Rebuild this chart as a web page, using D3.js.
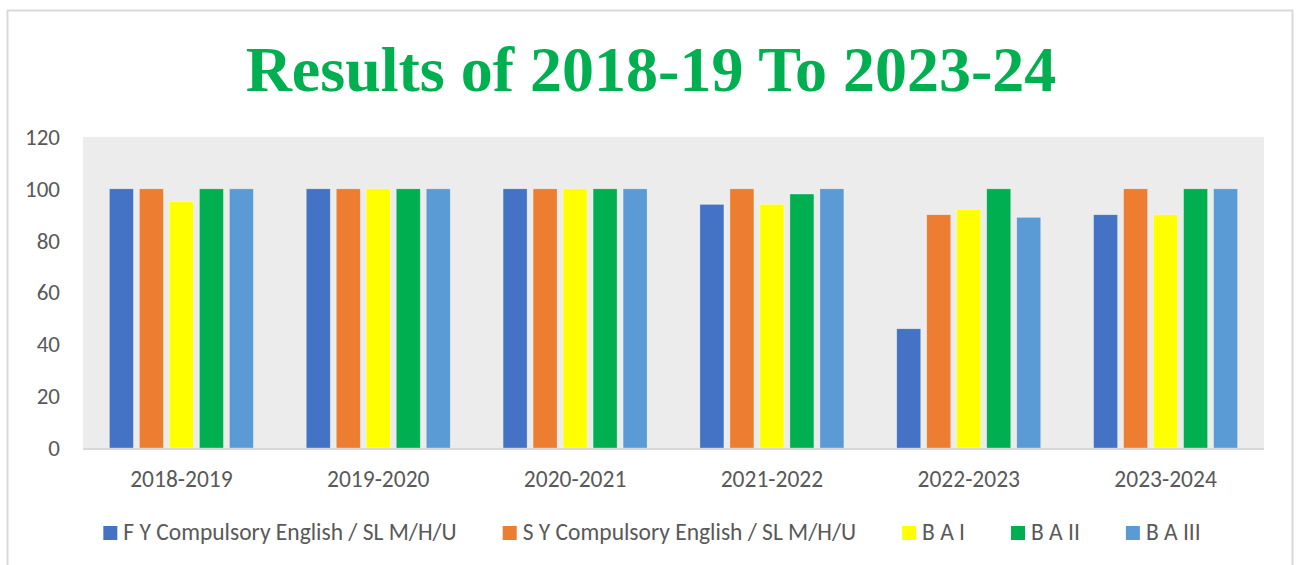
<!DOCTYPE html>
<html>
<head>
<meta charset="utf-8">
<script src="https://cdn.jsdelivr.net/npm/d3@7"></script>
<style>
  html, body { margin: 0; padding: 0; background: #fff; }
  #chart { width: 1298px; height: 565px; }
</style>
</head>
<body>
<div id="chart"></div>
<script>
// Chart data
const years = ["2018-2019", "2019-2020", "2020-2021", "2021-2022", "2022-2023", "2023-2024"];
const seriesNames = ["F Y Compulsory English / SL M/H/U", "S Y Compulsory English / SL M/H/U", "B A I", "B A II", "B A III"];
const fyEnglish = [100, 100, 100, 94, 46, 90];
const syEnglish = [100, 100, 100, 100, 90, 100];
const ba1 = [95, 100, 100, 94, 92, 90];
const ba2 = [100, 100, 100, 98, 100, 100];
const ba3 = [100, 100, 100, 100, 89, 100];
const yTicks = [0, 20, 40, 60, 80, 100, 120];

const seriesValues = [fyEnglish, syEnglish, ba1, ba2, ba3];
const colors = ["#4472C4", "#ED7D31", "#FFFF00", "#00B050", "#5B9BD5"];

const W = 1298, H = 565;
const plot = { left: 83, right: 1264, top: 137, bottom: 448 };
const labelFont = "Carlito, 'Open Sans', 'Liberation Sans', sans-serif";

const svg = d3.select("#chart").append("svg")
  .attr("width", W)
  .attr("height", H);

// Outer chart frame (bottom edge is cut off in the reference)
svg.append("path")
  .attr("d", `M7.5,${H + 2} L7.5,10.5 L1292.5,10.5 L1292.5,${H + 2}`)
  .attr("fill", "none")
  .attr("stroke", "#d9d9d9")
  .attr("stroke-width", 2);

// Title
svg.append("text")
  .attr("x", 651)
  .attr("y", 91)
  .attr("text-anchor", "middle")
  .style("font-family", "'Liberation Serif', 'Times New Roman', serif")
  .style("font-weight", "bold")
  .style("font-size", "64px")
  .style("fill", "#00B050")
  .text("Results of 2018-19 To 2023-24");

// Scales
const x0 = d3.scaleBand()
  .domain(years)
  .range([plot.left, plot.right]);

const x1 = d3.scaleBand()
  .domain(d3.range(seriesNames.length))
  .range([0, 150])
  .paddingInner(0.2)
  .paddingOuter(0.1);

const y = d3.scaleLinear()
  .domain([0, 120])
  .range([plot.bottom, plot.top]);

// Plot background
svg.append("rect")
  .attr("x", plot.left)
  .attr("y", plot.top)
  .attr("width", plot.right - plot.left)
  .attr("height", plot.bottom - plot.top)
  .attr("fill", "#ececec");

// Bars
const groups = svg.append("g")
  .selectAll("g")
  .data(years)
  .join("g")
  .attr("transform", d => `translate(${x0(d) + x0.bandwidth() / 2 - 75},0)`);

groups.selectAll("rect")
  .data((d, i) => seriesValues.map((vals, s) => ({ s, v: vals[i] })))
  .join("rect")
  .attr("x", d => x1(d.s))
  .attr("y", d => y(d.v))
  .attr("width", x1.bandwidth())
  .attr("height", d => y(0) - y(d.v))
  .attr("fill", d => colors[d.s])
  .attr("stroke", "rgba(255,255,255,0.5)")
  .attr("stroke-width", 0.6);

// Baseline
svg.append("line")
  .attr("x1", plot.left)
  .attr("x2", plot.right)
  .attr("y1", plot.bottom + 1)
  .attr("y2", plot.bottom + 1)
  .attr("stroke", "#d9d9d9")
  .attr("stroke-width", 2);

// Y axis labels
const yAxis = svg.append("g")
  .attr("transform", `translate(${plot.left - 23},0)`)
  .call(d3.axisLeft(y).tickValues(yTicks).tickSize(0).tickPadding(0));
yAxis.select(".domain").remove();
yAxis.selectAll("text")
  .style("font-family", labelFont)
  .style("font-size", "23px")
  .style("fill", "#595959");

// X axis labels
const xAxis = svg.append("g")
  .attr("transform", `translate(0,${plot.bottom})`)
  .call(d3.axisBottom(x0).tickSize(0).tickPadding(22));
xAxis.select(".domain").remove();
xAxis.selectAll("text")
  .style("font-family", labelFont)
  .style("font-size", "23.5px")
  .style("fill", "#595959");

// Legend
const legend = svg.append("g").attr("class", "legend");
const items = legend.selectAll("g")
  .data(seriesNames)
  .join("g");

items.append("rect")
  .attr("width", 14)
  .attr("height", 14)
  .attr("y", -14)
  .attr("fill", (d, i) => colors[i]);

items.append("text")
  .attr("x", 20)
  .attr("y", 0)
  .style("font-family", labelFont)
  .style("font-size", "23.5px")
  .style("fill", "#595959")
  .text(d => d);

// lay out legend items in a row
let cx = 0;
const gap = 46;
items.each(function() {
  const g = d3.select(this);
  g.attr("transform", `translate(${cx},540)`);
  cx += 20 + g.select("text").node().getComputedTextLength() + gap;
});
const legendWidth = cx - gap;
legend.attr("transform", `translate(${652 - legendWidth / 2},0)`);
</script>
</body>
</html>
